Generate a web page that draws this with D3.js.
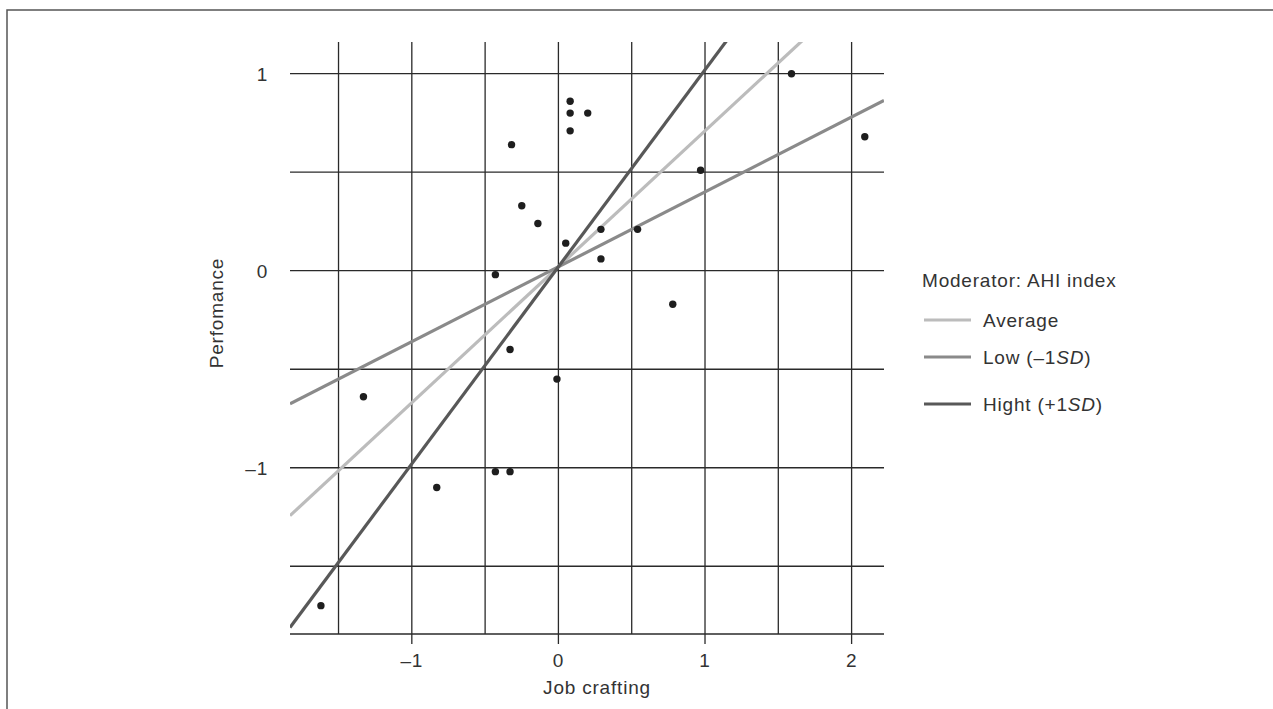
<!doctype html>
<html>
<head>
<meta charset="UTF-8">
<title>Job crafting</title>
<script src="https://d3js.org/d3.v7.min.js"></script>
<style>
  body { margin: 0; background: #fff; }
  text { font-family: "Liberation Sans", Arial, sans-serif; fill: #333; letter-spacing: 0.8px; }
</style>
</head>
<body>
<script>
// scatter points (job crafting, performance)
var jobCrafting = [0.08, 0.08, 0.20, 0.08, -0.32, -0.25, -0.14, 0.05, 0.29, 0.29, -0.43,
                   1.59, 2.09, 0.97, 0.54, -0.33, -0.01, -1.33, -0.43, -0.33, -0.83, 0.78, -1.62];
var performance = [0.86, 0.80, 0.80, 0.71, 0.64, 0.33, 0.24, 0.14, 0.21, 0.06, -0.02,
                   1.00, 0.68, 0.51, 0.21, -0.40, -0.55, -0.64, -1.02, -1.02, -1.10, -0.17, -1.70];

// simple slopes for the moderator
var levels = ["Average", "Low (–1SD)", "Hight (+1SD)"];
var slopes = [0.69, 0.38, 1.0];
var intercepts = [0.02, 0.02, 0.02];

var xTicks = [-1, 0, 1, 2];
var xGrid = [-1.5, -1, -0.5, 0, 0.5, 1, 1.5, 2];
var yTicks = [1, 0, -1];
var yGrid = [1, 0.5, 0, -0.5, -1, -1.5];

var w = 1273, h = 709;
var pLeft = 290, pRight = 884, pTop = 42, pBottom = 634;
var fs = 19;

var svg = d3.select("body").append("svg")
    .attr("width", w)
    .attr("height", h);

// frame around the figure
svg.append("rect")
    .attr("x", 7).attr("y", 10)
    .attr("width", w).attr("height", h)
    .attr("fill", "none")
    .attr("stroke", "#555")
    .attr("stroke-width", 1.5);

var x = d3.scaleLinear().domain([-1.831, 2.221]).range([pLeft, pRight]);
var y = d3.scaleLinear().domain([-1.844, 1.161]).range([pBottom, pTop]);

var color = d3.scaleOrdinal().domain(levels).range(["#bcbcbc", "#8a8a8a", "#585858"]);

// grid
svg.selectAll("line.vgrid")
    .data(xGrid)
    .enter().append("line")
    .attr("class", "vgrid")
    .attr("x1", function (d) { return x(d); })
    .attr("x2", function (d) { return x(d); })
    .attr("y1", pTop)
    .attr("y2", function (d) { return xTicks.indexOf(d) >= 0 ? pBottom + 10 : pBottom; })
    .attr("stroke", "#2a2a2a")
    .attr("stroke-width", 1.3);

svg.selectAll("line.hgrid")
    .data(yGrid)
    .enter().append("line")
    .attr("class", "hgrid")
    .attr("x1", pLeft)
    .attr("x2", pRight)
    .attr("y1", function (d) { return y(d); })
    .attr("y2", function (d) { return y(d); })
    .attr("stroke", "#2a2a2a")
    .attr("stroke-width", 1.3);

// x axis line
svg.append("line")
    .attr("x1", pLeft).attr("x2", pRight)
    .attr("y1", pBottom).attr("y2", pBottom)
    .attr("stroke", "#2a2a2a")
    .attr("stroke-width", 1.3);

// tick labels
svg.selectAll("text.xt")
    .data(xTicks)
    .enter().append("text")
    .attr("class", "xt")
    .attr("x", function (d) { return x(d); })
    .attr("y", pBottom + 33)
    .attr("text-anchor", "middle")
    .attr("font-size", fs)
    .text(function (d) { return d < 0 ? "–" + Math.abs(d) : d; });

svg.selectAll("text.yt")
    .data(yTicks)
    .enter().append("text")
    .attr("class", "yt")
    .attr("x", 268)
    .attr("y", function (d) { return y(d) + 7; })
    .attr("text-anchor", "end")
    .attr("font-size", fs)
    .text(function (d) { return d < 0 ? "–" + Math.abs(d) : d; });

// axis titles
svg.append("text")
    .attr("x", 597)
    .attr("y", 694)
    .attr("text-anchor", "middle")
    .attr("font-size", fs)
    .text("Job crafting");

svg.append("text")
    .attr("transform", "translate(223,313) rotate(-90)")
    .attr("text-anchor", "middle")
    .attr("font-size", fs)
    .text("Perfomance");

// regression lines
svg.append("clipPath").attr("id", "plot")
    .append("rect")
    .attr("x", pLeft).attr("y", pTop)
    .attr("width", pRight - pLeft).attr("height", pBottom - pTop);

var lineGen = d3.line()
    .x(function (p) { return x(p[0]); })
    .y(function (p) { return y(p[1]); });

var xd = x.domain();
svg.append("g").attr("clip-path", "url(#plot)")
    .selectAll("path")
    .data(levels)
    .enter().append("path")
    .attr("d", function (d, i) {
        return lineGen(xd.map(function (v) { return [v, intercepts[i] + slopes[i] * v]; }));
    })
    .attr("fill", "none")
    .attr("stroke", function (d) { return color(d); })
    .attr("stroke-width", 3.2);

// points
svg.selectAll("circle")
    .data(jobCrafting)
    .enter().append("circle")
    .attr("cx", function (d) { return x(d); })
    .attr("cy", function (d, i) { return y(performance[i]); })
    .attr("r", 3.7)
    .attr("fill", "#1e1e1e");

// legend
var lg = svg.append("g");
lg.append("text")
    .attr("x", 922)
    .attr("y", 287)
    .attr("font-size", fs)
    .text("Moderator: AHI index");

var legendY = [320, 357, 404];
var item = lg.selectAll("g.item")
    .data(levels)
    .enter().append("g")
    .attr("class", "item")
    .attr("transform", function (d, i) { return "translate(0," + legendY[i] + ")"; });

item.append("line")
    .attr("x1", 924).attr("x2", 971)
    .attr("y1", 0).attr("y2", 0)
    .attr("stroke", function (d) { return color(d); })
    .attr("stroke-width", 3.2);

item.append("text")
    .attr("x", 983)
    .attr("y", 7)
    .attr("font-size", fs)
    .each(function (d) {
        var parts = d.split("SD");
        var t = d3.select(this);
        t.append("tspan").text(parts[0]);
        if (parts.length > 1) {
            t.append("tspan").attr("font-style", "italic").text("SD");
            t.append("tspan").text(parts[1]);
        }
    });
</script>
</body>
</html>
